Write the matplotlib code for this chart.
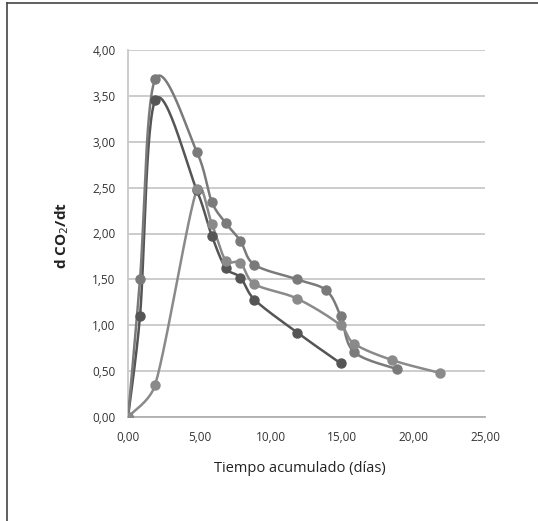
import numpy as np
import matplotlib
matplotlib.use("Agg")
import matplotlib.pyplot as plt
from matplotlib.lines import Line2D
from matplotlib.ticker import FuncFormatter

# Data
x1 = [0.0, 0.84, 1.90, 4.82, 5.88, 6.86, 7.87, 8.85, 11.85, 14.89]
y1 = [0.0, 1.10, 3.45, 2.47, 1.97, 1.62, 1.52, 1.28, 0.92, 0.585]

x2 = [0.0, 0.84, 1.90, 4.82, 5.88, 6.86, 7.87, 8.85, 11.85, 13.88, 14.89, 15.82, 18.87]
y2 = [0.0, 1.50, 3.68, 2.89, 2.34, 2.11, 1.92, 1.66, 1.50, 1.38, 1.10, 0.71, 0.52]

x3 = [0.0, 1.90, 4.82, 5.88, 6.86, 7.87, 8.85, 11.85, 14.89, 15.82, 18.50, 21.86]
y3 = [0.0, 0.35, 2.48, 2.10, 1.70, 1.68, 1.45, 1.29, 1.00, 0.80, 0.62, 0.48]

series = [(x1, y1, "#555555"), (x2, y2, "#7a7a7a"), (x3, y3, "#8a8a8a")]

xticks = [0, 5, 10, 15, 20, 25]
yticks = [0, 0.5, 1, 1.5, 2, 2.5, 3, 3.5, 4]
XMAX, YMAX = 25, 4


def _clip(h, L, f=0.4):
    n = np.hypot(*h)
    return h if n <= f * L or n == 0 else h * (f * L / n)


def smooth(xs, ys, sx, sy, n=30):
    # Catmull-Rom style Bezier in screen space, handles limited by segment length
    P = np.column_stack([np.asarray(xs) / sx, np.asarray(ys) / sy])
    m = len(P)
    out = [P[0]]
    for i in range(m - 1):
        p0 = P[i - 1] if i > 0 else P[i]
        p1, p2 = P[i], P[i + 1]
        p3 = P[i + 2] if i + 2 < m else P[i + 1]
        L = np.hypot(*(p2 - p1))
        c1 = p1 + _clip((p2 - p0) / 6.0, L)
        c2 = p2 - _clip((p3 - p1) / 6.0, L)
        t = np.linspace(0, 1, n)[1:, None]
        bz = ((1 - t) ** 3) * p1 + 3 * ((1 - t) ** 2) * t * c1 + 3 * (1 - t) * t ** 2 * c2 + t ** 3 * p2
        out.extend(bz)
    out = np.array(out)
    return out[:, 0] * sx, out[:, 1] * sy


W, H = 538, 521
fig = plt.figure(figsize=(W / 100, H / 100), dpi=100)
ax = fig.add_axes([128 / W, 1 - 417 / H, (485 - 128) / W, (417 - 50) / H])

sx = XMAX / 357.0
sy = YMAX / 367.0

for xs, ys, c in series:
    cx, cy = smooth(xs, ys, sx, sy)
    ax.plot(cx, cy, color=c, lw=1.8, zorder=3, solid_capstyle="round")
    ax.plot(xs, ys, "o", color=c, ms=6.5, zorder=4)

ax.set_xlim(0, XMAX)
ax.set_ylim(0, YMAX)
ax.set_xticks(xticks)
ax.set_yticks(yticks)
fmt = FuncFormatter(lambda v, p: f"{v:.2f}".replace(".", ","))
ax.xaxis.set_major_formatter(fmt)
ax.yaxis.set_major_formatter(fmt)
ax.tick_params(length=0, labelsize=8.5, colors="#333333")
ax.tick_params(axis="y", pad=9)
ax.tick_params(axis="x", pad=10)
for lab in ax.get_xticklabels() + ax.get_yticklabels():
    lab.set_family("Open Sans")

ax.yaxis.grid(True, color="#c8c8c8", lw=1.3)
ax.set_axisbelow(True)
for s in ["top", "right"]:
    ax.spines[s].set_visible(False)
ax.spines["left"].set_color("#c8c8c8")
ax.spines["left"].set_linewidth(1.3)
ax.spines["bottom"].set_color("#b0b0b0")
ax.spines["bottom"].set_linewidth(1.3)

fig.text(300 / W, 1 - 468 / H, "Tiempo acumulado (días)", ha="center", va="center",
         fontsize=10.5, family="Open Sans", color="#222222")
fig.text(62 / W, 1 - 236 / H, "d CO$_2$/dt", ha="center", va="center", rotation=90,
         fontsize=11, family="Open Sans", fontweight="bold", color="#222222")

fig.add_artist(Line2D([7 / W, 7 / W], [0, 1 - 3 / H], color="#444444", lw=1.2))
fig.add_artist(Line2D([7 / W, 1], [1 - 3 / H, 1 - 3 / H], color="#444444", lw=1.2))

fig.savefig("out.png", dpi=100, facecolor="white")
